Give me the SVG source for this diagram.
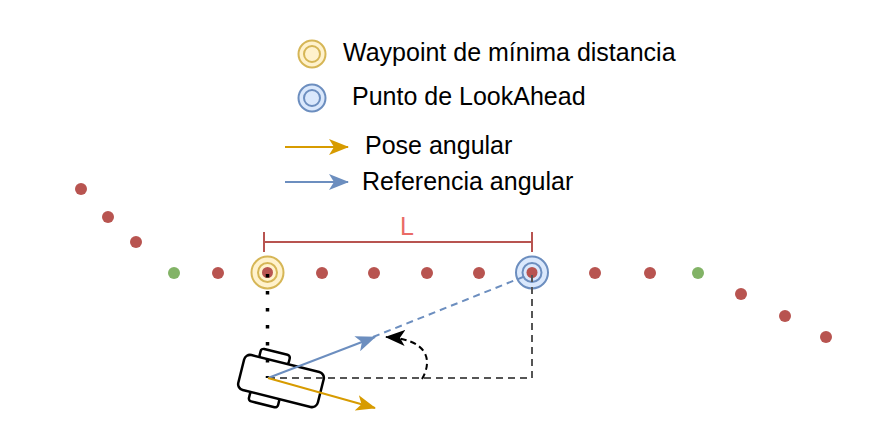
<svg xmlns="http://www.w3.org/2000/svg" width="880" height="430" viewBox="0 0 880 430">
<defs>
<style>
.txt{font-family:"Liberation Sans",Arial,sans-serif;font-size:25px;fill:#000}
.red{fill:#b85450}
.green{fill:#82b366}
.yo{fill:#fff2cc;stroke:#d6b656;stroke-width:2}
.yi{fill:none;stroke:#d6b656;stroke-width:2}
.bo{fill:#dae8fc;stroke:#6c8ebf;stroke-width:2}
.bi{fill:none;stroke:#6c8ebf;stroke-width:2}
.rob{fill:#fff;stroke:#000;stroke-width:2.5}
</style>
<marker id="mOr" viewBox="0 0 20 16" refX="19" refY="8" markerWidth="20" markerHeight="16" markerUnits="userSpaceOnUse" orient="auto">
<path d="M0,0 L20,8 L0,16 L5,8 Z" fill="#d79b00"/>
</marker>
<marker id="mBl" viewBox="0 0 20 16" refX="19" refY="8" markerWidth="20" markerHeight="16" markerUnits="userSpaceOnUse" orient="auto">
<path d="M0,0 L20,8 L0,16 L5,8 Z" fill="#6c8ebf"/>
</marker>
<marker id="mBk" viewBox="0 0 20 16" refX="19" refY="8" markerWidth="20" markerHeight="16" markerUnits="userSpaceOnUse" orient="auto">
<path d="M0,0 L20,8 L0,16 L5,8 Z" fill="#000"/>
</marker>
</defs>
<rect width="880" height="430" fill="#fff"/>

<g id="legend">
<g id="legend-waypoint">
<circle class="yo" cx="312" cy="54" r="13.5"/>
<circle class="yi" cx="312" cy="54" r="8"/>
<text class="txt" x="343" y="61">Waypoint de mínima distancia</text>
</g>
<g id="legend-lookahead">
<circle class="bo" cx="312" cy="98" r="13.5"/>
<circle class="bi" cx="312" cy="98" r="8"/>
<text class="txt" x="352" y="105">Punto de LookAhead</text>
</g>
<g id="legend-pose">
<line x1="285" y1="147" x2="348" y2="147" stroke="#d79b00" stroke-width="2" marker-end="url(#mOr)"/>
<text class="txt" x="365" y="154">Pose angular</text>
</g>
<g id="legend-ref">
<line x1="285" y1="182" x2="348" y2="182" stroke="#6c8ebf" stroke-width="2" marker-end="url(#mBl)"/>
<text class="txt" x="362" y="190">Referencia angular</text>
</g>
</g>

<g id="dimension-L">
<line x1="264" y1="242" x2="532" y2="242" stroke="#b85450" stroke-width="2"/>
<line x1="264" y1="232" x2="264" y2="252" stroke="#b85450" stroke-width="2"/>
<line x1="532" y1="232" x2="532" y2="252" stroke="#b85450" stroke-width="2"/>
<text x="400" y="235" style="font-family:'Liberation Sans',Arial,sans-serif;font-size:25px;fill:#ea6b66">L</text>
</g>

<g id="path-points">
<circle class="red" cx="81" cy="189" r="6"/>
<circle class="red" cx="108" cy="217" r="6"/>
<circle class="red" cx="136" cy="242" r="6"/>
<circle class="green" cx="174" cy="273" r="6"/>
<circle class="red" cx="218" cy="273" r="6"/>
<circle class="red" cx="322" cy="273" r="6"/>
<circle class="red" cx="374" cy="273" r="6"/>
<circle class="red" cx="427" cy="273" r="6"/>
<circle class="red" cx="479" cy="273" r="6"/>
<circle class="red" cx="595" cy="273" r="6"/>
<circle class="red" cx="650" cy="273" r="6"/>
<circle class="green" cx="698" cy="273" r="6"/>
<circle class="red" cx="741" cy="294" r="6"/>
<circle class="red" cx="785" cy="316" r="6"/>
<circle class="red" cx="826" cy="337" r="6"/>
</g>

<g id="waypoint-min">
<circle class="yo" cx="267.5" cy="272.5" r="16"/>
<circle class="yi" cx="267.5" cy="272.5" r="9.5"/>
<circle class="red" cx="267.5" cy="272.5" r="5.5"/>
</g>

<g id="lookahead-point">
<circle class="bo" cx="532" cy="272.5" r="16"/>
<circle class="bi" cx="532" cy="272.5" r="9.5"/>
<circle class="red" cx="532" cy="272.5" r="5.5"/>
</g>

<g id="robot" transform="translate(281,381) rotate(14)">
<rect class="rob" x="-27" y="-27" width="30" height="10" rx="3"/>
<rect class="rob" x="-27" y="17" width="30" height="10" rx="3"/>
<rect class="rob" x="-41" y="-18" width="82" height="36" rx="6"/>
</g>

<g id="connectors">
<line x1="267.5" y1="274" x2="267.5" y2="378" stroke="#000" stroke-width="3.5" stroke-dasharray="3.5 13.5"/>
<polyline points="268,378 532,378 532,274" fill="none" stroke="#555" stroke-width="2" stroke-dasharray="7 5"/>
<line x1="373" y1="337" x2="528" y2="275" stroke="#6c8ebf" stroke-width="2" stroke-dasharray="7 5"/>
<line x1="268" y1="378" x2="375" y2="337" stroke="#6c8ebf" stroke-width="2" marker-end="url(#mBl)"/>
<line x1="268" y1="378" x2="375" y2="408" stroke="#d79b00" stroke-width="2" marker-end="url(#mOr)"/>
<path d="M422,379 C433,360 428,339 386,337" fill="none" stroke="#000" stroke-width="2" stroke-dasharray="6 4" marker-end="url(#mBk)"/>
</g>
</svg>
